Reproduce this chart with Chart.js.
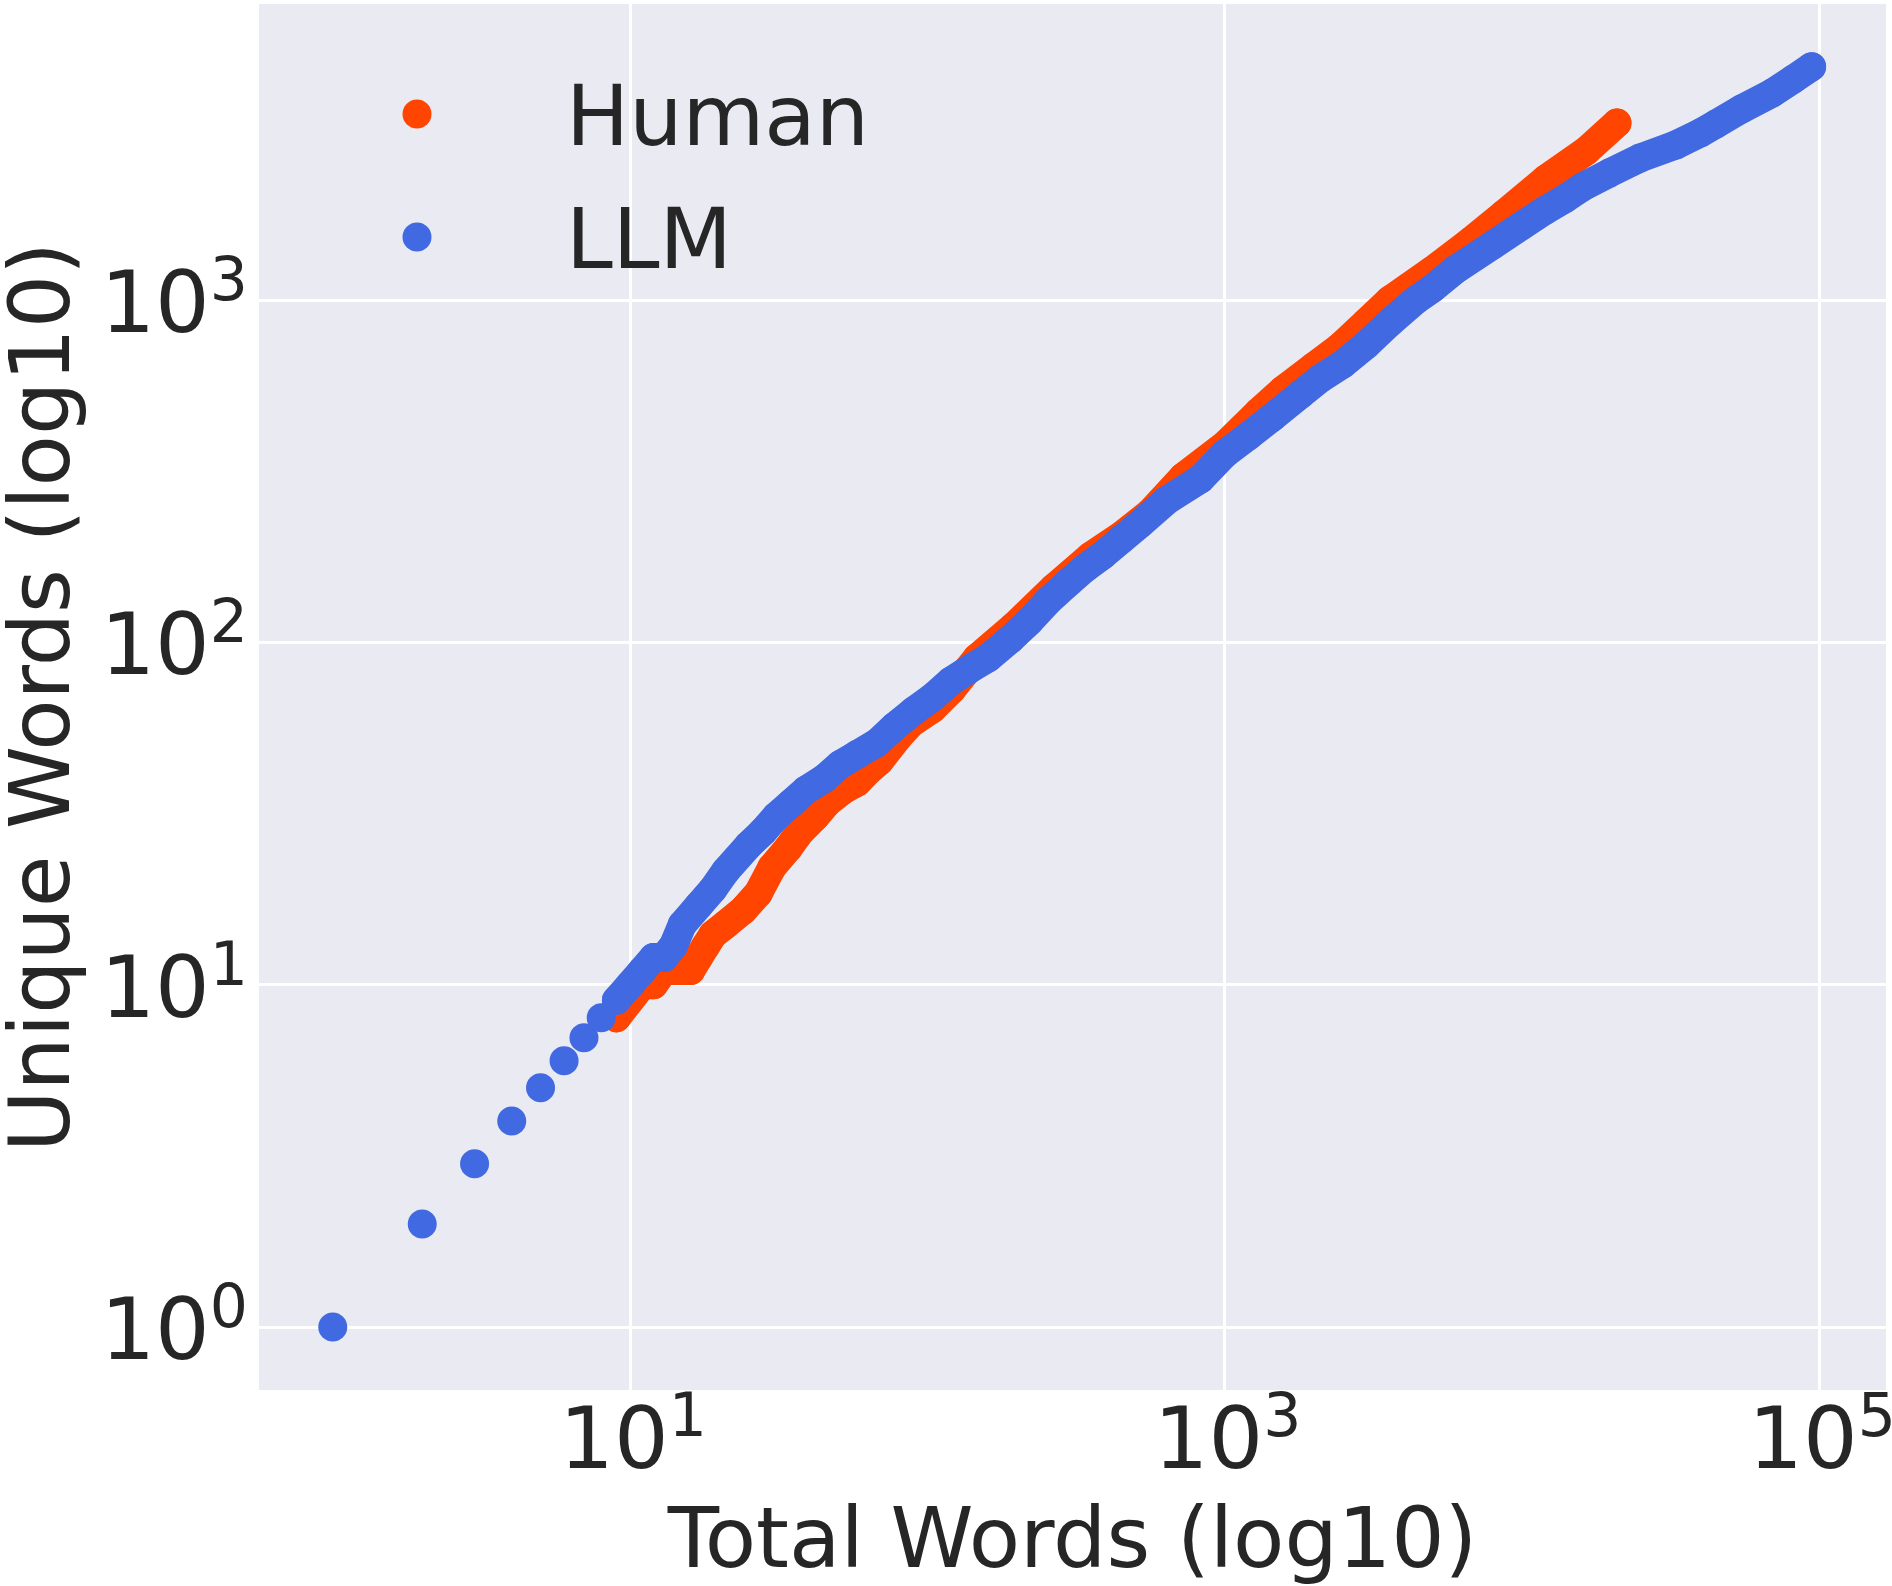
<!DOCTYPE html>
<html>
<head>
<meta charset="utf-8">
<script src="https://cdn.jsdelivr.net/npm/chart.js@4.4.1/dist/chart.umd.min.js"></script>
<style>
  html, body { margin: 0; padding: 0; background: #fff; }
  #wrap { width: 1892px; height: 1586px; }
</style>
</head>
<body>
<div id="wrap"><canvas id="chart" width="1892" height="1586"></canvas></div>
<script>
/* ===== VOCABULARY GROWTH (Chart.js, log-log scatter) ===== */

// values
const humanTotal  = [9, 10, 11, 12, 13, 14, 15, 16, 17, 18, 19, 21, 24, 27, 30, 34, 37, 42, 46, 52, 58, 63, 69, 80, 88, 104, 121, 147, 195, 266, 353, 450, 562, 726, 1014, 1300, 1574, 2000, 2450, 3000, 3600, 5000, 6700, 8700, 12000, 16500, 20900];
const humanUnique = [8, 9, 10, 10, 11, 11, 11, 11, 12, 13, 14, 15, 16.5, 18.5, 22, 25, 27.7, 31, 34, 37, 39, 42, 45, 53, 58, 64, 73, 90, 111, 144, 178, 205, 239, 304, 380, 470, 546, 640, 730, 860, 1000, 1220, 1480, 1780, 2250, 2730, 3290];

const llmTotal  = [1, 2, 3, 4, 5, 6, 7, 8, 9, 10, 11, 12, 13, 14, 15, 17, 19, 21, 25, 28, 31, 35, 39, 45, 51, 58, 68, 78, 90, 104, 120, 140, 160, 190, 220, 255, 300, 340, 390, 450, 520, 640, 830, 1000, 1200, 1450, 1800, 2100, 2500, 3000, 3600, 4400, 5000, 6000, 8000, 10000, 12000, 14000, 16000, 19700, 25000, 33000, 40000, 45000, 55000, 69500, 82000, 94400];
const llmUnique = [1, 2, 3, 4, 5, 6, 7, 8, 9, 10, 11, 12, 12, 13, 15, 17, 19, 21.5, 25.5, 28, 31, 34, 37, 40, 44, 47, 51, 57, 63, 69, 77, 84, 90, 102, 115, 132, 150, 165, 180, 200, 222, 260, 300, 355, 400, 455, 530, 590, 650, 740, 860, 1000, 1080, 1230, 1450, 1650, 1830, 1980, 2140, 2350, 2600, 2840, 3080, 3270, 3620, 4025, 4420, 4806];

const seriesLabels = ['Human', 'LLM'];
const xTicks = [10, 1000, 100000];
const yTicks = [1, 10, 100, 1000];

const colors = { human: '#FF4500', llm: '#4169E1', face: '#EAEAF2', grid: '#FFFFFF', text: '#262626' };
const FONT = "'DejaVu Sans', sans-serif";
const MARK_R = 14.5;

const toPoints = (xs, ys) => xs.map((x, i) => ({ x, y: ys[i] }));

function drawPow(ctx, exp, x, baseY, align) {
    ctx.font = `86px ${FONT}`;
    const wBase = ctx.measureText('10').width;
    ctx.font = `60px ${FONT}`;
    const wSup = ctx.measureText(String(exp)).width;
    const left = align === 'right' ? x - wBase - wSup : x - (wBase + wSup) / 2;
    ctx.textAlign = 'left';
    ctx.textBaseline = 'alphabetic';
    ctx.font = `86px ${FONT}`;
    ctx.fillText('10', left, baseY);
    ctx.font = `60px ${FONT}`;
    ctx.fillText(String(exp), left + wBase, baseY - 32);
}

const decor = {
    id: 'decor',
    beforeDraw(chart) {
        const { ctx, chartArea: a } = chart;
        ctx.save();
        ctx.fillStyle = colors.face;
        ctx.fillRect(a.left, a.top, a.right - a.left, a.bottom - a.top);
        ctx.restore();
    },
    afterDraw(chart) {
        const { ctx, chartArea: a, scales } = chart;
        ctx.save();
        ctx.fillStyle = colors.text;

        // tick labels as 10^n
        yTicks.forEach(v => drawPow(ctx, Math.round(Math.log10(v)), 248, scales.y.getPixelForValue(v) + 32, 'right'));
        xTicks.forEach(v => drawPow(ctx, Math.round(Math.log10(v)), scales.x.getPixelForValue(v) + 3, a.bottom + 78, 'center'));

        // axis titles
        ctx.font = `84px ${FONT}`;
        ctx.textAlign = 'center';
        ctx.fillText('Total Words (log10)', (a.left + a.right) / 2, 1567);
        ctx.save();
        ctx.translate(69, (a.top + a.bottom) / 2);
        ctx.rotate(-Math.PI / 2);
        ctx.fillText('Unique Words (log10)', 0, 0);
        ctx.restore();

        // legend, upper left inside the axes
        chart.data.datasets.forEach((ds, i) => {
            const cy = 114 + i * 123;
            ctx.fillStyle = ds.pointBackgroundColor;
            ctx.beginPath();
            ctx.arc(417, cy, MARK_R, 0, Math.PI * 2);
            ctx.fill();
            ctx.fillStyle = colors.text;
            ctx.font = `84px ${FONT}`;
            ctx.textAlign = 'left';
            ctx.fillText(ds.label, 566, cy + 31);
        });
        ctx.restore();
    }
};

function series(label, pts, color, order, extra) {
    return Object.assign({
        label, data: pts, order,
        showLine: true,
        borderColor: color, borderWidth: MARK_R * 2,
        borderCapStyle: 'round', borderJoinStyle: 'round',
        pointRadius: MARK_R, pointHoverRadius: MARK_R,
        pointBackgroundColor: color, pointBorderColor: color, pointBorderWidth: 0,
        backgroundColor: color
    }, extra || {});
}

const logAxis = (min, max, ticks) => ({
    type: 'logarithmic', min, max, bounds: 'data',
    afterBuildTicks: s => { s.ticks = ticks.map(v => ({ value: v })); },
    ticks: { display: false },
    grid: { color: colors.grid, lineWidth: 3, drawTicks: false },
    border: { display: false },
    title: { display: false }
});

new Chart(document.getElementById('chart'), {
    type: 'scatter',
    data: {
        datasets: [
            series(seriesLabels[0], toPoints(humanTotal, humanUnique), colors.human, 2),
            // first few LLM points are separate dots, so no connecting band there
            series(seriesLabels[1], toPoints(llmTotal, llmUnique), colors.llm, 1, {
                segment: { borderColor: c => (c.p0.parsed.x < 9 ? 'transparent' : undefined) }
            })
        ]
    },
    options: {
        responsive: false, animation: false, devicePixelRatio: 1,
        layout: { autoPadding: false, padding: { left: 259, top: 4, right: 6, bottom: 196 } },
        plugins: { legend: { display: false }, tooltip: { enabled: false } },
        scales: {
            x: logAxis(0.5648, 167950, xTicks),
            y: logAxis(0.6546, 7326, yTicks)
        }
    },
    plugins: [decor]
});
</script>
</body>
</html>
